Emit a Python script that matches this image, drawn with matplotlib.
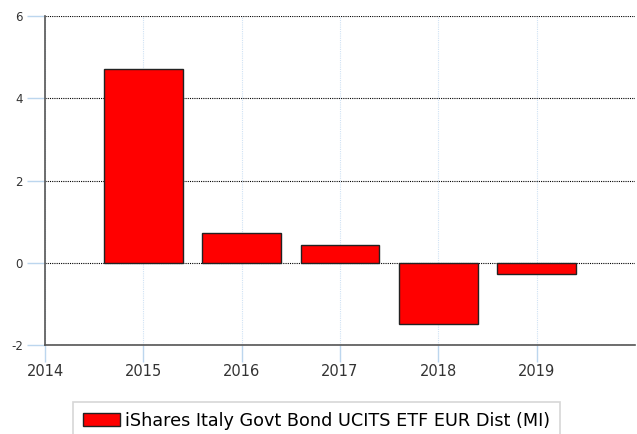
import numpy as np
import matplotlib.pyplot as plt
from matplotlib.ticker import MultipleLocator

years = [2015, 2016, 2017, 2018, 2019]
returns = [4.72, 0.73, 0.44, -1.48, -0.27]
x_ticks = [2014, 2015, 2016, 2017, 2018, 2019]
series_name = 'iShares Italy Govt Bond UCITS ETF EUR Dist (MI)'

plt.rcParams['font.family'] = ['DejaVu Sans']
plt.rcParams['axes.unicode_minus'] = False

fig = plt.figure(figsize=(6.37, 4.34), dpi=100)
ax = fig.add_axes([45 / 637, 89 / 434, 590 / 637, 329 / 434])

ax.bar(years, returns, width=0.8, color='#ff0000', edgecolor='#222222',
       linewidth=1.0, label=series_name, zorder=3)

ax.set_xlim(2014, 2020)
ax.set_ylim(-2, 6)
ax.set_xticks(x_ticks)
ax.yaxis.set_major_locator(MultipleLocator(2))

# horizontal dotted black grid, vertical light blue grid
ax.grid(axis='y', color='black', linestyle=(0, (1, 1)), linewidth=0.8, zorder=1)
ax.grid(axis='x', color='#d0e2f4', linestyle=(0, (1, 1)), linewidth=0.8, zorder=1)

for s in ['top', 'right']:
    ax.spines[s].set_visible(False)
for s in ['left', 'bottom']:
    ax.spines[s].set_color('#555555')
    ax.spines[s].set_linewidth(1.2)

ax.tick_params(axis='both', colors='#bcd6ee', width=1, labelcolor='#333333')
ax.tick_params(axis='y', labelsize=8.5, pad=3, length=13)
ax.tick_params(axis='x', labelsize=10.5, pad=2, length=12)

leg = fig.legend(loc='upper left', bbox_to_anchor=(73 / 637, 1 - 402 / 434),
                 fontsize=12.7, frameon=True, fancybox=False, handlelength=2.1,
                 handleheight=0.7, borderpad=0.55, handletextpad=0.3,
                 borderaxespad=0)
leg.get_frame().set_edgecolor('#cccccc')
leg.get_frame().set_linewidth(1.2)

fig.savefig('out.png', dpi=100)
